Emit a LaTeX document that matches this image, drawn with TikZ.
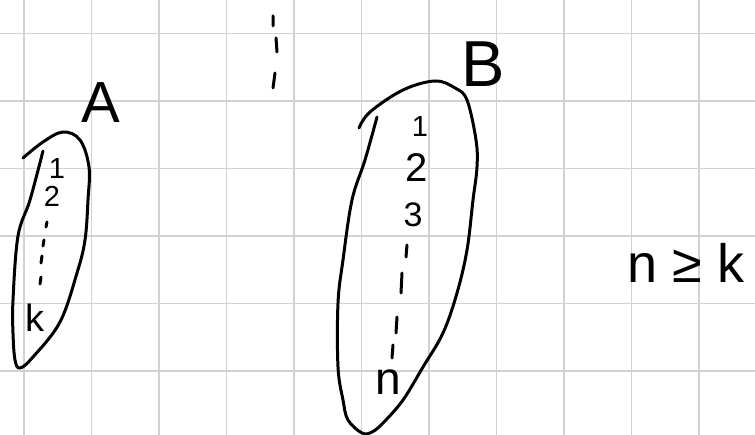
\documentclass[tikz,border=0pt]{standalone}
\usepackage{fontspec}
\setmainfont{Liberation Sans}
\begin{document}
\begin{tikzpicture}[x=1pt,y=-1pt,
  gridline/.style={draw=gray!35,line width=1.5pt},
  pen/.style={draw=black,line width=3pt,line cap=round,line join=round},
  hand/.style={font=\fontsize{#1}{#1}\selectfont,inner sep=0pt,anchor=base}]
\useasboundingbox (0,0) rectangle (755,435);
\fill[white] (0,0) rectangle (755,435);
% grid paper
\foreach \i in {0,...,10} \draw[gridline] ({24+67.5*\i},0) -- ({24+67.5*\i},435);
\foreach \j in {0,...,5} \draw[gridline] (0,{33.3+67.5*\j}) -- (755,{33.3+67.5*\j});
% set A
\draw[pen] plot[smooth,tension=0.6] coordinates {(43,151) (30,200) (18,236) (13,300) (13,333) (15,360) (20,368) (33,357) (60,322) (77,273) (85,240) (88,200) (89,167) (80,140) (63,132) (43,142) (23,158)};
% set B
\draw[pen] plot[smooth,tension=0.6] coordinates {(377,117) (365,160) (352,200) (343,260) (338,303) (338,367) (343,400) (348,420) (362,433) (372,432) (383,423) (403,400) (423,367) (443,333) (457,293) (467,250) (473,200) (477,167) (476,140) (467,100) (455,88) (435,81) (403,90) (370,112) (359,128)};
% labels
\node[hand=58] (lblA) at (101,123) {A};
\node[hand=65] (lblB) at (483,87) {B};
\node[hand=29] (a1) at (57,179) {1};
\node[hand=29] (a2) at (52,207) {2};
\node[hand=38] (ak) at (35,332) {k};
\node[hand=29] (b1) at (420,137) {1};
\node[hand=40] (b2) at (417,182) {2};
\node[hand=34] (b3) at (413,227) {3};
\node[hand=46] (bn) at (388,395) {n};
\node[hand=54] (ineq) at (686,283) {n ≥ k};
% dotted continuations
\draw[pen] (47,222) -- (46,227) (44,240) -- (43,246) (42,256) -- (41,263) (41,277) -- (40,284);
\draw[pen] (407,245) -- (406,257) (402,273) -- (401,293) (397,317) -- (396,333) (393,345) -- (392,358);
\draw[pen] (273,16) -- (273,26) (276,38) -- (277,52) (275,73) -- (273,88);
\end{tikzpicture}
\end{document}
